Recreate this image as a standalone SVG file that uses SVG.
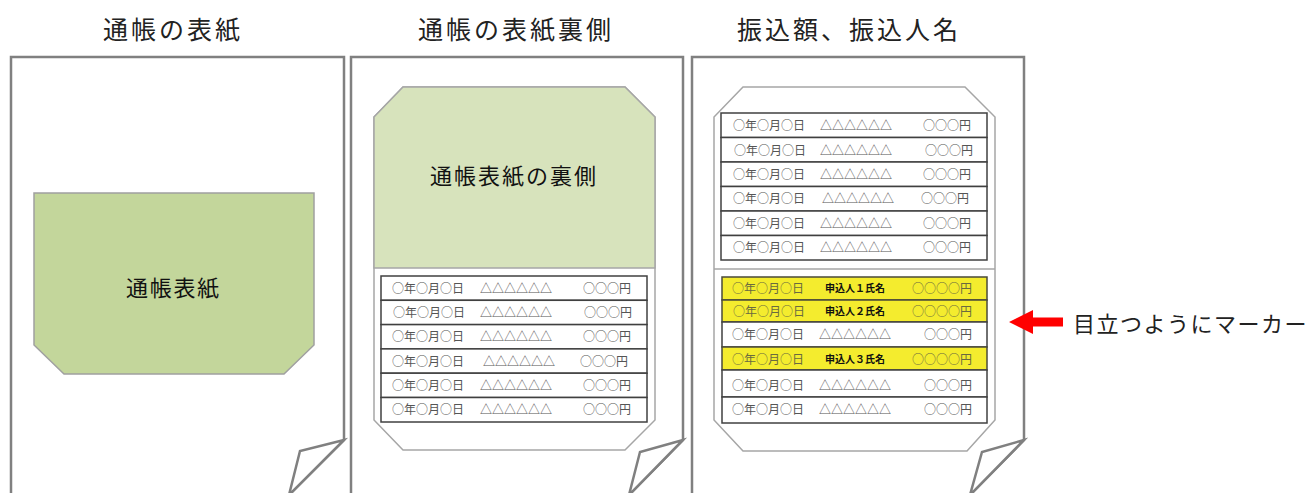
<svg xmlns="http://www.w3.org/2000/svg" width="1312" height="493" viewBox="0 0 1312 493">
<style>
.title{font-family:"Liberation Serif","Noto Sans CJK JP",serif;font-size:25px;letter-spacing:3px;fill:#222}
.page{fill:#fff;stroke:#808080;stroke-width:2.5}
.curl{fill:#fff;stroke:#808080;stroke-width:2.5;stroke-linejoin:miter}
.oct{fill:#fff;stroke:#a6a6a6;stroke-width:1.5}
.green{fill:#d7e3bc;stroke:#a6a6a6;stroke-width:1.5}
.cover{fill:#c3d69b;stroke:#a0a0a0;stroke-width:1.5}
.big{font-family:"Noto Sans CJK JP",sans-serif;font-size:22px;fill:#111}
.row{fill:#fff;stroke:#404040;stroke-width:1.5}
.yrow{fill:#f4ec2e;stroke:#4a4a3a;stroke-width:1.5}
.t{font-family:"Noto Sans CJK JP",sans-serif;font-size:12px;fill:#555}
.yt{font-family:"Noto Sans CJK JP",sans-serif;font-size:12px;fill:#6a6a40}
.nm{font-family:"Liberation Serif","Noto Sans CJK JP",serif;font-size:10px;font-weight:bold;fill:#111}
.note{font-family:"Liberation Serif","Noto Sans CJK JP",serif;font-size:22px;letter-spacing:1.5px;fill:#222}
</style>

<g id="titles">
<text class="title" x="103" y="39">通帳の表紙</text>
<text class="title" x="418" y="39">通帳の表紙裏側</text>
<text class="title" x="737" y="39">振込額、振込人名</text>
</g>

<g id="page1">
<path class="page" d="M11,500 V57 H344 V440 L289,495"/>
<polygon class="curl" points="344,440 300,451 289,495"/>
<polygon class="cover" points="34,193 314,193 314,345 284,374 64,374 34,345"/>
<text class="big" x="126" y="296" style="letter-spacing:1.7px">通帳表紙</text>
</g>

<g id="page2">
<path class="page" d="M351,500 V57 H683 V440 L629,495"/>
<polygon class="curl" points="683,440 640,452 629,495"/>
<polygon class="oct" points="403,87 625,87 655,117 655,420 625,450 403,450 374,420 374,117"/>
<polygon class="green" points="403,87 625,87 655,117 655,268 374,268 374,117"/>
<text class="big" x="430" y="184" style="letter-spacing:2px">通帳表紙の裏側</text>
<g id="table2">
<rect class="row" x="381" y="276" width="266" height="24.3"/>
<rect class="row" x="381" y="300.3" width="266" height="24.3"/>
<rect class="row" x="381" y="324.6" width="266" height="24.3"/>
<rect class="row" x="381" y="348.9" width="266" height="24.3"/>
<rect class="row" x="381" y="373.2" width="266" height="24.3"/>
<rect class="row" x="381" y="397.5" width="266" height="24.5"/>
<text class="t" x="392" y="293">○年○月○日</text><text class="t" x="480" y="293">△△△△△△</text><text class="t" x="583" y="293">○○○円</text>
<text class="t" x="393" y="317">○年○月○日</text><text class="t" x="480" y="317">△△△△△△</text><text class="t" x="584" y="317">○○○円</text>
<text class="t" x="392" y="341">○年○月○日</text><text class="t" x="480" y="341">△△△△△△</text><text class="t" x="583" y="341">○○○円</text>
<text class="t" x="392" y="366">○年○月○日</text><text class="t" x="483" y="366">△△△△△△</text><text class="t" x="580" y="366">○○○円</text>
<text class="t" x="392" y="390">○年○月○日</text><text class="t" x="480" y="390">△△△△△△</text><text class="t" x="583" y="390">○○○円</text>
<text class="t" x="392" y="414">○年○月○日</text><text class="t" x="480" y="414">△△△△△△</text><text class="t" x="583" y="414">○○○円</text>
</g>
</g>

<g id="page3">
<path class="page" d="M692,500 V57 H1024 V440 L970,495"/>
<polygon class="curl" points="1024,440 982,452 970,495"/>
<polygon class="oct" points="743,87 965,87 995,117 995,420 967,451 743,451 714,420 714,117"/>
<line x1="714" y1="269" x2="995" y2="269" stroke="#a6a6a6" stroke-width="1.5"/>
<g id="table3a">
<rect class="row" x="721" y="113" width="266" height="24.5"/>
<rect class="row" x="721" y="137.5" width="266" height="24.5"/>
<rect class="row" x="721" y="162" width="266" height="24.5"/>
<rect class="row" x="721" y="186.5" width="266" height="24.5"/>
<rect class="row" x="721" y="211" width="266" height="24.5"/>
<rect class="row" x="721" y="235.5" width="266" height="24.5"/>
<text class="t" x="733" y="130">○年○月○日</text><text class="t" x="820" y="130">△△△△△△</text><text class="t" x="923" y="130">○○○円</text>
<text class="t" x="734" y="155">○年○月○日</text><text class="t" x="820" y="155">△△△△△△</text><text class="t" x="925" y="155">○○○円</text>
<text class="t" x="733" y="179">○年○月○日</text><text class="t" x="820" y="179">△△△△△△</text><text class="t" x="923" y="179">○○○円</text>
<text class="t" x="733" y="203">○年○月○日</text><text class="t" x="822" y="203">△△△△△△</text><text class="t" x="921" y="203">○○○円</text>
<text class="t" x="733" y="228">○年○月○日</text><text class="t" x="820" y="228">△△△△△△</text><text class="t" x="923" y="228">○○○円</text>
<text class="t" x="733" y="252">○年○月○日</text><text class="t" x="820" y="252">△△△△△△</text><text class="t" x="923" y="252">○○○円</text>
</g>
<g id="table3b">
<rect class="yrow" x="722" y="277" width="265" height="23"/>
<rect class="yrow" x="722" y="300" width="265" height="22"/>
<rect class="row" x="722" y="322" width="265" height="25"/>
<rect class="yrow" x="722" y="347" width="265" height="23"/>
<rect class="row" x="722" y="370" width="265" height="27"/>
<rect class="row" x="722" y="397" width="265" height="26"/>
<text class="yt" x="732" y="293">○年○月○日</text><text class="nm" x="825" y="292">申込人１氏名</text><text class="yt" x="912" y="293">○○○○円</text>
<text class="yt" x="733" y="316">○年○月○日</text><text class="nm" x="825" y="315">申込人２氏名</text><text class="yt" x="912" y="316">○○○○円</text>
<text class="t" x="732" y="339">○年○月○日</text><text class="t" x="819" y="339">△△△△△△</text><text class="t" x="924" y="339">○○○円</text>
<text class="yt" x="732" y="364">○年○月○日</text><text class="nm" x="825" y="363">申込人３氏名</text><text class="yt" x="912" y="364">○○○○円</text>
<text class="t" x="732" y="390">○年○月○日</text><text class="t" x="819" y="390">△△△△△△</text><text class="t" x="924" y="390">○○○円</text>
<text class="t" x="732" y="414">○年○月○日</text><text class="t" x="819" y="414">△△△△△△</text><text class="t" x="924" y="414">○○○円</text>
</g>
</g>

<g id="connectors">
<polygon fill="#ff0000" points="1009,322 1033,310 1033,317.5 1063,317.5 1063,326.5 1033,326.5 1033,334"/>
</g>

<g id="note">
<text class="note" x="1073" y="332">目立つようにマーカー</text>
</g>
</svg>
